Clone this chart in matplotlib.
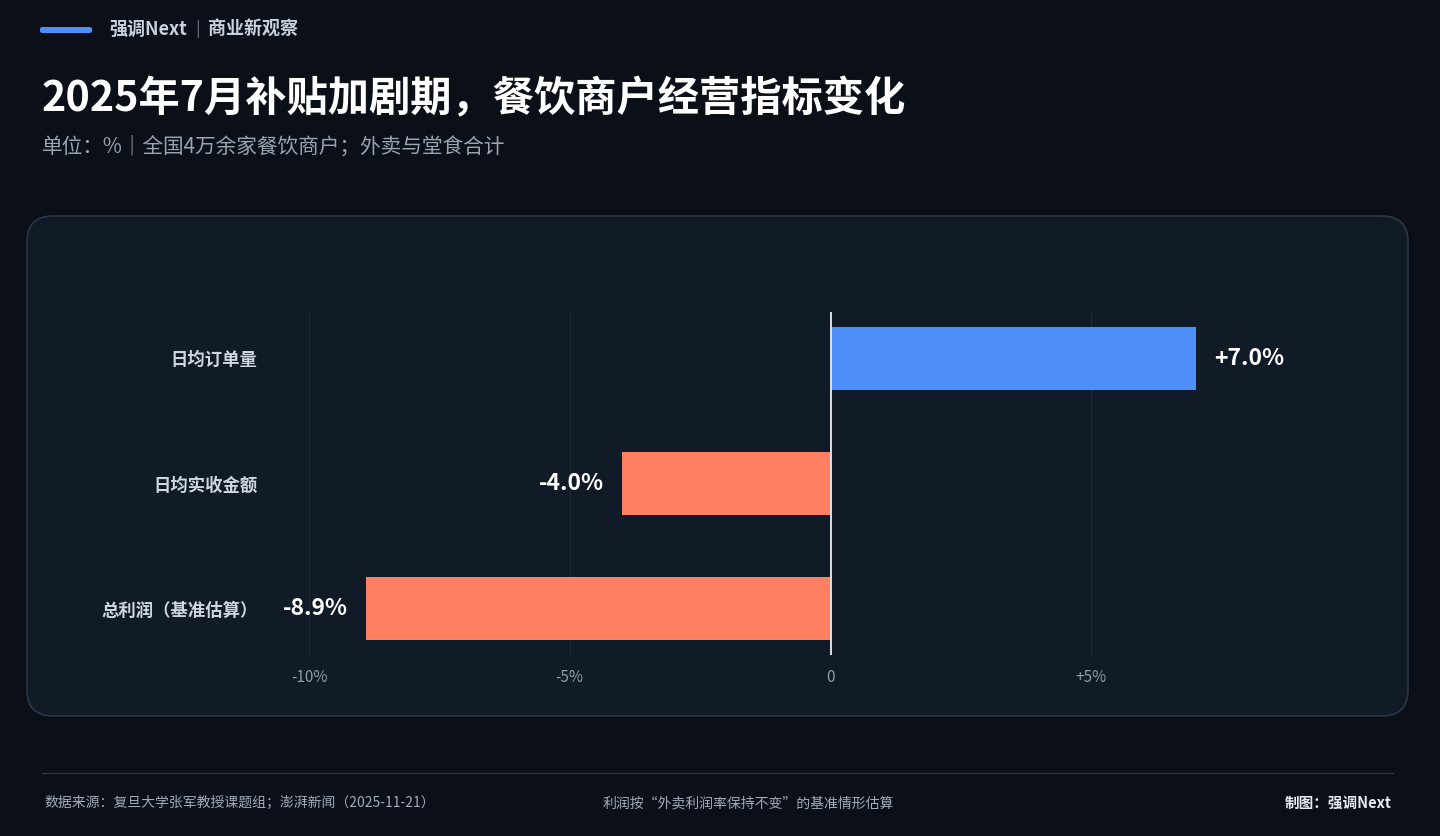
import matplotlib
matplotlib.use("Agg")
import matplotlib.pyplot as plt
from matplotlib.patches import FancyBboxPatch
plt.rcParams['font.family'] = ['Noto Sans CJK SC', 'DejaVu Sans']

categories = ["日均订单量", "日均实收金额", "总利润（基准估算）"]
values = [7.0, -4.0, -8.9]
labels = ["+7.0%", "-4.0%", "-8.9%"]
ticks = [-10, -5, 0, 5]
tick_labels = ["-10%", "-5%", "0", "+5%"]

W, H = 1440, 836
fig = plt.figure(figsize=(W/100, H/100), dpi=100)
fig.patch.set_facecolor("#0a0f18")

def fx(x): return x / W
def fy(y): return 1 - y / H

# panel
panel = FancyBboxPatch((fx(27), fy(716)), fx(1408-27), (716-216)/H,
                       boxstyle="round,pad=0,rounding_size=0.018", transform=fig.transFigure,
                       facecolor="#111a27", edgecolor="#2a3646", linewidth=1.2, mutation_aspect=W/H, zorder=-5)
fig.patches.append(panel)

# header
fig.patches.append(FancyBboxPatch((fx(40), fy(33)), fx(52), 6/H, boxstyle="round,pad=0,rounding_size=0.002",
                                  transform=fig.transFigure, facecolor="#4d8ff7", edgecolor="none"))
fig.text(fx(109), fy(29), "强调Next", color="#c9d1dc", fontsize=13, fontweight="bold", va="center")
fig.text(fx(195), fy(29), "|", color="#6b7686", fontsize=12, va="center")
fig.text(fx(208), fy(29), "商业新观察", color="#c9d1dc", fontsize=13, fontweight="bold", va="center")
fig.text(fx(42), fy(99), "2025年7月补贴加剧期，餐饮商户经营指标变化", color="white", fontsize=29.7, fontweight="bold", va="center")
fig.text(fx(42), fy(146), "单位：%｜全国4万余家餐饮商户；外卖与堂食合计", color="#9aa4b2", fontsize=14.9, va="center")

# footer
fig.add_artist(plt.Line2D([fx(42), fx(1393)], [fy(773), fy(773)], transform=fig.transFigure, color="#2a3442", lw=1))
fig.text(fx(44), fy(803), "数据来源：复旦大学张军教授课题组；澎湃新闻（2025-11-21）", color="#a3acb9", fontsize=10, va="center")
fig.text(fx(748), fy(803), "利润按“外卖利润率保持不变”的基准情形估算", color="#a3acb9", fontsize=10, va="center", ha="center")
fig.text(fx(1392), fy(803), "制图：强调Next", color="#e6ebf1", fontsize=10.5, fontweight="bold", va="center", ha="right")

# axes
ax = fig.add_axes([fx(309), fy(655), fx(1352-309), (655-312)/H])
ax.set_zorder(5)
ax.set_facecolor("none")
ax.set_xlim(-10, 10)
ax.set_ylim(2.37, -0.37)
for s in ax.spines.values():
    s.set_visible(False)
for t in ticks:
    if t != 0:
        ax.axvline(t, color="#1e2836", lw=1, zorder=0)
colors = ["#4d8ff7" if v > 0 else "#fe7f62" for v in values]
ys = list(range(len(values)))
ax.barh(ys, values, height=0.5, color=colors, zorder=2)
ax.axvline(0, color="#e8ecf2", lw=1.3, zorder=3)
for y, v, l in zip(ys, values, labels):
    off = 0.35 if v > 0 else -0.35
    ax.text(v + off, y, l, color="white", fontsize=16.5, fontweight="bold", va="center",
            ha="left" if v > 0 else "right")
ax.set_xticks(ticks)
ax.set_xticklabels(tick_labels, color="#8f99a7", fontsize=11)
ax.tick_params(axis="x", length=0, pad=10)
ax.set_yticks(ys)
ax.set_yticklabels(categories, color="#cfd6df", fontsize=12.5, fontweight="bold")
ax.tick_params(axis="y", length=0, pad=37)

fig.savefig("out.png", dpi=100, facecolor=fig.get_facecolor())
